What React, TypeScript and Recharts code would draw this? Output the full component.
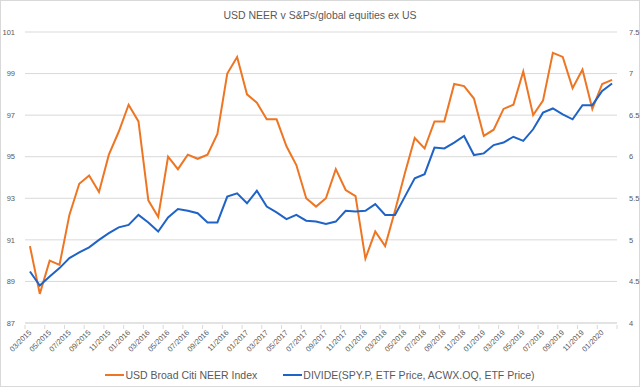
import React from "react";
import { LineChart, Line, XAxis, YAxis, CartesianGrid } from "recharts";

const months = [
  "03/2015", "04/2015", "05/2015", "06/2015", "07/2015", "08/2015", "09/2015", "10/2015", "11/2015", "12/2015",
  "01/2016", "02/2016", "03/2016", "04/2016", "05/2016", "06/2016", "07/2016", "08/2016", "09/2016", "10/2016",
  "11/2016", "12/2016", "01/2017", "02/2017", "03/2017", "04/2017", "05/2017", "06/2017", "07/2017", "08/2017",
  "09/2017", "10/2017", "11/2017", "12/2017", "01/2018", "02/2018", "03/2018", "04/2018", "05/2018", "06/2018",
  "07/2018", "08/2018", "09/2018", "10/2018", "11/2018", "12/2018", "01/2019", "02/2019", "03/2019", "04/2019",
  "05/2019", "06/2019", "07/2019", "08/2019", "09/2019", "10/2019", "11/2019", "12/2019", "01/2020", "02/2020",
];

const neer = [
  90.7, 88.4, 90.0, 89.8, 92.2, 93.7, 94.1, 93.3, 95.1, 96.2,
  97.5, 96.7, 92.9, 92.1, 95.0, 94.4, 95.1, 94.9, 95.1, 96.1,
  99.0, 99.8, 98.0, 97.6, 96.8, 96.8, 95.5, 94.6, 93.0, 92.6,
  93.0, 94.4, 93.4, 93.1, 90.1, 91.4, 90.7, 92.4, 94.2, 95.9,
  95.4, 96.7, 96.7, 98.5, 98.4, 97.8, 96.0, 96.3, 97.3, 97.5,
  99.1, 97.0, 97.7, 100.0, 99.8, 98.3, 99.2, 97.3, 98.5, 98.7,
];

const ratio = [
  4.62, 4.45, 4.56, 4.66, 4.78, 4.85, 4.91, 5.0, 5.08, 5.15,
  5.18, 5.3, 5.21, 5.1, 5.27, 5.37, 5.35, 5.32, 5.21, 5.21,
  5.52, 5.56, 5.44, 5.59, 5.4, 5.33, 5.25, 5.3, 5.23, 5.22,
  5.19, 5.22, 5.35, 5.34, 5.35, 5.43, 5.3, 5.3, 5.52, 5.74,
  5.79, 6.11, 6.1, 6.17, 6.25, 6.02, 6.04, 6.14, 6.17, 6.24,
  6.19, 6.33, 6.53, 6.58, 6.51, 6.45, 6.62, 6.62, 6.79, 6.88,
];

const leftTicks = [87, 89, 91, 93, 95, 97, 99, 101];
const rightTicks = [4, 4.5, 5, 5.5, 6, 6.5, 7, 7.5];

const data = months.map((m, i) => ({ month: m, neer: neer[i], ratio: ratio[i] }));

const ORANGE = "#EE7623";
const BLUE = "#1F63C6";
const TEXT = "#595959";
const GRID = "#D9D9D9";
const FONT = "'Liberation Sans', Arial, sans-serif";

const W = 640;
const H = 387;
const LEFT_W = 25;
const RIGHT_W = 23;
const BAND = (W - LEFT_W - RIGHT_W) / months.length;

const MonthTick = (props: any) => {
  const { x, y, payload, index } = props;
  const tx = x - BAND / 2;
  const last = index === Math.floor((months.length - 1) / 2);
  return (
    <g>
      <line x1={tx} y1={y} x2={tx} y2={y + 4} stroke={GRID} />
      {last && <line x1={tx + 2 * BAND} y1={y} x2={tx + 2 * BAND} y2={y + 4} stroke={GRID} />}
      <text
        x={x + 2}
        y={y + 8}
        transform={`rotate(-45, ${x + 2}, ${y + 8})`}
        textAnchor="end"
        fontSize={7.5}
        fontFamily={FONT}
        fill={TEXT}
      >
        {payload.value}
      </text>
    </g>
  );
};

export default function App() {
  return (
    <div
      style={{
        position: "absolute",
        left: 0,
        top: 0,
        width: W,
        height: H,
        background: "#fff",
        boxSizing: "border-box",
        border: "1px solid #D9D9D9",
        fontFamily: FONT,
      }}
    >
      <div
        style={{
          position: "absolute",
          top: 8,
          left: 0,
          width: "100%",
          textAlign: "center",
          fontSize: 10.5,
          color: TEXT,
        }}
      >
        USD NEER v S&amp;Ps/global equities ex US
      </div>
      <div style={{ position: "absolute", left: -1, top: -1 }}>
        <LineChart width={W} height={H} data={data} margin={{ top: 32, right: 0, bottom: 20, left: 0 }}>
          <CartesianGrid yAxisId="left" vertical={false} stroke={GRID} />
          <XAxis
            dataKey="month"
            interval={1}
            axisLine={{ stroke: GRID }}
            tickLine={false}
            tickSize={0}
            height={44}
            padding={{ left: BAND / 2, right: BAND / 2 }}
            tick={<MonthTick />}
          />
          <YAxis
            yAxisId="left"
            orientation="left"
            width={LEFT_W}
            domain={[87, 101]}
            ticks={leftTicks}
            axisLine={false}
            tickLine={false}
            tickMargin={4}
            tick={{ fontSize: 7.5, fill: TEXT, fontFamily: FONT }}
          />
          <YAxis
            yAxisId="right"
            orientation="right"
            width={RIGHT_W}
            domain={[4, 7.5]}
            ticks={rightTicks}
            axisLine={false}
            tickLine={false}
            tickMargin={6}
            tick={{ fontSize: 7.5, fill: TEXT, fontFamily: FONT, textAnchor: "start" }}
          />
          <Line
            yAxisId="left"
            type="linear"
            dataKey="neer"
            stroke={ORANGE}
            strokeWidth={2}
            dot={false}
            isAnimationActive={false}
          />
          <Line
            yAxisId="right"
            type="linear"
            dataKey="ratio"
            stroke={BLUE}
            strokeWidth={2}
            dot={false}
            isAnimationActive={false}
          />
        </LineChart>
      </div>
      <div
        style={{
          position: "absolute",
          top: 368,
          left: 0,
          width: "100%",
          display: "flex",
          justifyContent: "center",
          alignItems: "center",
          fontSize: 10.5,
          color: TEXT,
          gap: 26,
        }}
      >
        <div style={{ display: "flex", alignItems: "center" }}>
          <span style={{ display: "inline-block", width: 19, height: 2, background: ORANGE, marginRight: 1 }} />
          USD Broad Citi NEER Index
        </div>
        <div style={{ display: "flex", alignItems: "center" }}>
          <span style={{ display: "inline-block", width: 19, height: 2, background: BLUE, marginRight: 1 }} />
          DIVIDE(SPY.P, ETF Price, ACWX.OQ, ETF Price)
        </div>
      </div>
    </div>
  );
}
